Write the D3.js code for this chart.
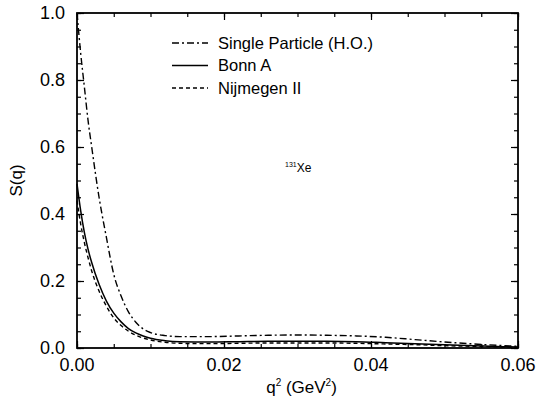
<!DOCTYPE html>
<html>
<head>
<meta charset="utf-8">
<script src="https://cdn.jsdelivr.net/npm/d3@7"></script>
<style>
  body { margin: 0; background: #fff; }
  text { font-family: "Liberation Sans", Arial, sans-serif; fill: #000; }
</style>
</head>
<body>
<div id="chart"></div>
<script>
// chart values
var qSingle = [0, 0.0005, 0.001, 0.0015, 0.002, 0.003, 0.004, 0.005, 0.006, 0.007, 0.008, 0.009, 0.010, 0.012, 0.014, 0.018, 0.022, 0.026, 0.030, 0.034, 0.038, 0.042, 0.046, 0.050, 0.054, 0.058, 0.060];
var sSingle = [1.0, 0.88, 0.78, 0.68, 0.6, 0.45, 0.33, 0.22, 0.155, 0.108, 0.077, 0.057, 0.046, 0.037, 0.034, 0.034, 0.036, 0.038, 0.039, 0.038, 0.036, 0.032, 0.025, 0.018, 0.012, 0.007, 0.005];

var qBonn = [0, 0.0005, 0.001, 0.0015, 0.002, 0.003, 0.004, 0.005, 0.006, 0.007, 0.008, 0.009, 0.010, 0.012, 0.014, 0.018, 0.022, 0.026, 0.030, 0.034, 0.038, 0.042, 0.046, 0.050, 0.054, 0.058, 0.060];
var sBonn = [0.49, 0.41, 0.345, 0.295, 0.255, 0.19, 0.14, 0.104, 0.078, 0.058, 0.045, 0.036, 0.029, 0.022, 0.019, 0.018, 0.019, 0.02, 0.02, 0.02, 0.019, 0.016, 0.013, 0.01, 0.007, 0.004, 0.003];

var qNij = [0, 0.0005, 0.001, 0.0015, 0.002, 0.003, 0.004, 0.005, 0.006, 0.007, 0.008, 0.009, 0.010, 0.012, 0.014, 0.018, 0.022, 0.026, 0.030, 0.034, 0.038, 0.042, 0.046, 0.050, 0.054, 0.058, 0.060];
var sNij = [0.44, 0.37, 0.315, 0.27, 0.23, 0.17, 0.125, 0.09, 0.067, 0.05, 0.038, 0.03, 0.024, 0.017, 0.014, 0.013, 0.014, 0.015, 0.015, 0.015, 0.014, 0.012, 0.01, 0.007, 0.005, 0.003, 0.002];

var seriesNames = ["Single Particle (H.O.)", "Bonn A", "Nijmegen II"];
var xTickLabels = [0, 0.02, 0.04, 0.06];
var yTickLabels = [0, 0.2, 0.4, 0.6, 0.8, 1.0];

var svgWidth = 543;
var svgHeight = 403;
var margin = { top: 13, right: 25, bottom: 55, left: 77 };
var width = svgWidth - margin.left - margin.right;
var height = svgHeight - margin.top - margin.bottom;

var svg = d3.select("#chart")
  .append("svg")
  .attr("width", svgWidth)
  .attr("height", svgHeight);

var chartGroup = svg.append("g")
  .attr("transform", `translate(${margin.left}, ${margin.top})`);

var xScale = d3.scaleLinear().domain([0, 0.06]).range([0, width]);
var yScale = d3.scaleLinear().domain([0, 1.0]).range([height, 0]);

// minor ticks every 0.005 / 0.05, all pointing inward
var xMinor = d3.range(0, 0.0601, 0.005);
var yMinor = d3.range(0, 1.001, 0.05);

function tickAxis(axisFn, scale, values, size) {
  return axisFn(scale).tickValues(values).tickSize(size).tickFormat("");
}

// bottom
chartGroup.append("g").attr("class", "ax")
  .attr("transform", `translate(0, ${height})`)
  .call(tickAxis(d3.axisTop, xScale, xMinor, 4));
chartGroup.append("g").attr("class", "ax")
  .attr("transform", `translate(0, ${height})`)
  .call(tickAxis(d3.axisTop, xScale, xTickLabels, 7));
// top
chartGroup.append("g").attr("class", "ax")
  .call(tickAxis(d3.axisBottom, xScale, xMinor, 4));
chartGroup.append("g").attr("class", "ax")
  .call(tickAxis(d3.axisBottom, xScale, xTickLabels, 7));
// left
chartGroup.append("g").attr("class", "ax")
  .call(tickAxis(d3.axisRight, yScale, yMinor, 4));
chartGroup.append("g").attr("class", "ax")
  .call(tickAxis(d3.axisRight, yScale, yTickLabels, 7));
// right
chartGroup.append("g").attr("class", "ax")
  .attr("transform", `translate(${width}, 0)`)
  .call(tickAxis(d3.axisLeft, yScale, yMinor, 4));
chartGroup.append("g").attr("class", "ax")
  .attr("transform", `translate(${width}, 0)`)
  .call(tickAxis(d3.axisLeft, yScale, yTickLabels, 7));

chartGroup.selectAll(".ax .domain").remove();
chartGroup.selectAll(".ax line").attr("stroke", "#000").attr("stroke-width", 1.2);

// frame
chartGroup.append("rect")
  .attr("width", width)
  .attr("height", height)
  .attr("fill", "none")
  .attr("stroke", "#000")
  .attr("stroke-width", 1.8);

// tick labels
chartGroup.selectAll(".xlab")
  .data(xTickLabels)
  .enter()
  .append("text")
  .attr("x", d => xScale(d))
  .attr("y", height + 23)
  .attr("text-anchor", "middle")
  .style("font-size", "18px")
  .text(d => d3.format(".2f")(d));

chartGroup.selectAll(".ylab")
  .data(yTickLabels)
  .enter()
  .append("text")
  .attr("x", -12)
  .attr("y", d => yScale(d))
  .attr("dy", "0.36em")
  .attr("text-anchor", "end")
  .style("font-size", "18px")
  .text(d => d3.format(".1f")(d));

// curves
var line = d3.line()
  .x(d => xScale(d[0]))
  .y(d => yScale(d[1]))
  .curve(d3.curveMonotoneX);

var series = [
  { name: seriesNames[0], pts: d3.zip(qSingle, sSingle), dash: "7,3,2,3", width: 1.4 },
  { name: seriesNames[1], pts: d3.zip(qBonn, sBonn), dash: null, width: 1.5 },
  { name: seriesNames[2], pts: d3.zip(qNij, sNij), dash: "4,3", width: 1.4 }
];

chartGroup.selectAll(".curve")
  .data(series)
  .enter()
  .append("path")
  .attr("fill", "none")
  .attr("stroke", "#000")
  .attr("stroke-width", d => d.width)
  .attr("stroke-dasharray", d => d.dash)
  .attr("d", d => line(d.pts));

// legend
var legend = chartGroup.selectAll(".legend")
  .data(series)
  .enter()
  .append("g")
  .attr("transform", (d, i) => `translate(95, ${30 + i * 22.5})`);

legend.append("line")
  .attr("x1", 0)
  .attr("x2", 36)
  .attr("stroke", "#000")
  .attr("stroke-width", d => d.width)
  .attr("stroke-dasharray", d => d.dash);

legend.append("text")
  .attr("x", 46)
  .attr("dy", "0.35em")
  .style("font-size", "16.5px")
  .text(d => d.name);

// isotope annotation
var iso = chartGroup.append("text")
  .attr("x", 208)
  .attr("y", 159)
  .style("font-size", "12px");
iso.append("tspan").attr("dy", "-5").style("font-size", "7px").text("131");
iso.append("tspan").attr("dy", "5").text("Xe");

// axis labels
var xLabel = chartGroup.append("text")
  .attr("x", width / 2 + 4)
  .attr("y", height + 45)
  .attr("text-anchor", "middle")
  .style("font-size", "17px");
xLabel.append("tspan").text("q");
xLabel.append("tspan").attr("dy", "-7").style("font-size", "10px").text("2");
xLabel.append("tspan").attr("dy", "7").text(" (GeV");
xLabel.append("tspan").attr("dy", "-7").style("font-size", "10px").text("2");
xLabel.append("tspan").attr("dy", "7").text(")");

chartGroup.append("text")
  .attr("transform", "rotate(-90)")
  .attr("x", -(yScale(0.5)))
  .attr("y", -55)
  .attr("text-anchor", "middle")
  .style("font-size", "17px")
  .text("S(q)");
</script>
</body>
</html>
